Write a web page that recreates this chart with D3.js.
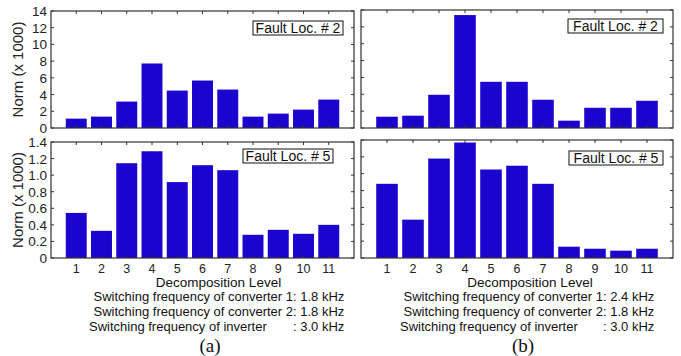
<!DOCTYPE html>
<html lang="en">
<head>
<meta charset="UTF-8">
<title>Decomposition level norms</title>
<script src="https://d3js.org/d3.v7.min.js"></script>
<style>
    body { margin: 0; background: #fff; }
    svg { font-family: "Liberation Sans", Arial, sans-serif; }
    .tick-label { fill: #222; }
    .frame { fill: none; stroke: #333; stroke-width: 1.2px; }
    .tick { stroke: #333; stroke-width: 1px; }
</style>
</head>
<body>
<svg id="chart" width="681" height="356"></svg>
<script>
    // decomposition levels 1..11
    const levels = [1, 2, 3, 4, 5, 6, 7, 8, 9, 10, 11];

    // norms (x 1000)
    const aLoc2 = [1.12, 1.36, 3.16, 7.72, 4.48, 5.68, 4.6, 1.36, 1.72, 2.2, 3.4];
    const aLoc5 = [0.544, 0.328, 1.144, 1.288, 0.916, 1.12, 1.06, 0.28, 0.34, 0.292, 0.4];
    const bLoc2 = [1.34, 1.46, 3.94, 13.4, 5.48, 5.48, 3.35, 0.87, 2.4, 2.4, 3.23];
    const bLoc5 = [0.88, 0.455, 1.18, 1.37, 1.05, 1.095, 0.88, 0.134, 0.11, 0.087, 0.11];

    const topTicks = [0, 2, 4, 6, 8, 10, 12, 14];
    const bottomTicks = [0, 0.2, 0.4, 0.6, 0.8, 1.0, 1.2, 1.4];

    const notesA = [["Switching frequency of converter 1", ": 1.8 kHz"],
                    ["Switching frequency of converter 2", ": 1.8 kHz"],
                    ["Switching frequency of inverter", ": 3.0 kHz"]];
    const notesB = [["Switching frequency of converter 1", ": 2.4 kHz"],
                    ["Switching frequency of converter 2", ": 1.8 kHz"],
                    ["Switching frequency of inverter", ": 3.0 kHz"]];

    const barColor = "#1c04cf";
    const svg = d3.select("#chart");

    // one axes box, matlab style: ticks pointing inward on all four sides
    function panel(opts) {
        const x = d3.scaleLinear().domain([0, 12]).range([opts.x0, opts.x1]);
        const y = d3.scaleLinear().domain([0, opts.ymax]).range([opts.y1, opts.y0]);
        const g = svg.append("g");
        const bw = (x(1) - x(0)) * 0.83;

        g.selectAll("rect.bar")
            .data(opts.values)
            .join("rect")
            .attr("class", "bar")
            .attr("x", (d, i) => x(levels[i]) - bw / 2)
            .attr("width", bw)
            .attr("y", d => y(d))
            .attr("height", d => y(0) - y(d))
            .attr("fill", barColor);

        g.append("rect").attr("class", "frame")
            .attr("x", opts.x0).attr("y", opts.y0)
            .attr("width", opts.x1 - opts.x0).attr("height", opts.y1 - opts.y0);

        const tl = 3;
        // x ticks top and bottom
        levels.forEach(l => {
            g.append("line").attr("class", "tick")
                .attr("x1", x(l)).attr("x2", x(l)).attr("y1", opts.y0).attr("y2", opts.y0 + tl);
            g.append("line").attr("class", "tick")
                .attr("x1", x(l)).attr("x2", x(l)).attr("y1", opts.y1).attr("y2", opts.y1 - tl);
        });
        // y ticks left and right
        opts.ticks.forEach(t => {
            g.append("line").attr("class", "tick")
                .attr("x1", opts.x0).attr("x2", opts.x0 + tl).attr("y1", y(t)).attr("y2", y(t));
            g.append("line").attr("class", "tick")
                .attr("x1", opts.x1).attr("x2", opts.x1 - tl).attr("y1", y(t)).attr("y2", y(t));
        });

        if (opts.yLabels) {
            g.selectAll("text.ytl")
                .data(opts.ticks)
                .join("text")
                .attr("class", "tick-label")
                .style("font-size", "13.5px")
                .attr("x", opts.x0 - 4)
                .attr("y", d => y(d) + 5)
                .attr("text-anchor", "end")
                .text(d => opts.fmt(d));
            g.append("text")
                .attr("transform", `translate(${opts.x0 - 28},${(opts.y0 + opts.y1) / 2}) rotate(-90)`)
                .attr("text-anchor", "middle")
                .style("font-size", "15px")
                .attr("fill", "#222")
                .text("Norm (x 1000)");
        }

        if (opts.xLabels) {
            g.selectAll("text.xtl")
                .data(levels)
                .join("text")
                .attr("class", "tick-label")
                .style("font-size", "12.5px")
                .attr("x", d => x(d))
                .attr("y", opts.y1 + 15)
                .attr("text-anchor", "middle")
                .text(d => d);
            g.append("text")
                .attr("x", (opts.x0 + opts.x1) / 2 + opts.xlabShift)
                .attr("y", opts.y1 + 29)
                .attr("text-anchor", "middle")
                .style("font-size", "13.5px")
                .attr("fill", "#111")
                .text("Decomposition Level");
        }

        // legend box
        const lg = g.append("g").attr("transform", `translate(${opts.legend[0]},${opts.legend[1]})`);
        lg.append("rect").attr("width", opts.legend[2]).attr("height", 14)
            .attr("fill", "#fff").attr("stroke", "#111").attr("stroke-width", 1);
        lg.append("text").attr("x", opts.legend[2] / 2).attr("y", 12)
            .attr("text-anchor", "middle").style("font-size", "14px").attr("fill", "#111")
            .text(opts.title);
    }

    function notes(lines, xStart, xColon, cx, letter) {
        const g = svg.append("g").style("font-size", "13px").attr("fill", "#111");
        lines.forEach((ln, i) => {
            const yy = 301 + i * 15;
            g.append("text").attr("y", yy).attr("text-anchor", i < 2 ? "end" : "start")
                .attr("x", i < 2 ? xColon : xStart).text(ln[0]);
            g.append("text").attr("x", xColon).attr("y", yy).text(ln[1]);
        });
        svg.append("text").attr("x", cx).attr("y", 352).attr("text-anchor", "middle")
            .style("font-family", "'Liberation Serif', 'Times New Roman', serif")
            .style("font-size", "19px").attr("fill", "#111").text(letter);
    }

    const f0 = d => d3.format("d")(d);
    const f1 = d => d === 0 ? "0" : d3.format(".1f")(d);

    panel({ x0: 51, x1: 354, y0: 11, y1: 128, ymax: 14, values: aLoc2, ticks: topTicks,
            yLabels: true, fmt: f0, xLabels: false, title: "Fault Loc. # 2", legend: [253, 21, 90] });
    panel({ x0: 51, x1: 354, y0: 142, y1: 258, ymax: 1.4, values: aLoc5, ticks: bottomTicks,
            yLabels: true, fmt: f1, xLabels: true, xlabShift: 16, title: "Fault Loc. # 5", legend: [243, 149, 90] });
    panel({ x0: 361, x1: 673, y0: 10, y1: 128, ymax: 14, values: bLoc2, ticks: topTicks,
            yLabels: false, xLabels: false, title: "Fault Loc. # 2", legend: [568, 19, 95] });
    panel({ x0: 361, x1: 673, y0: 140, y1: 258, ymax: 1.4, values: bLoc5, ticks: bottomTicks,
            yLabels: false, xLabels: true, xlabShift: 13, title: "Fault Loc. # 5", legend: [569, 151, 94] });

    notes(notesA, 89, 293, 210, "(a)");
    notes(notesB, 400, 603, 523, "(b)");
</script>
</body>
</html>
